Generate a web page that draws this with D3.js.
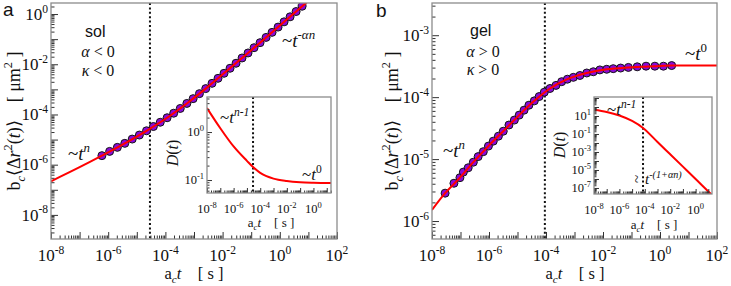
<!DOCTYPE html>
<html>
<head>
<meta charset="utf-8">
<script src="https://cdn.jsdelivr.net/npm/d3@7"></script>
<style>
    body { margin: 0; background: #fff; }
</style>
</head>
<body>
<svg id="chart" width="731" height="286"></svg>
<script>
// all values are log10

// panel a (sol): MSD dots and the red fit
const solDotLogT = [-6.22, -5.95, -5.68, -5.42, -5.16, -4.91, -4.66, -4.42, -4.18, -3.94, -3.71, -3.48,
    -3.25, -3.03, -2.81, -2.59, -2.37, -2.16, -1.95, -1.74, -1.53, -1.32, -1.11, -0.90, -0.69, -0.48,
    -0.27, -0.06, 0.15, 0.36, 0.57, 0.78];
const solDotLogMsd = [-5.64, -5.47, -5.31, -5.15, -4.98, -4.82, -4.65, -4.48, -4.31, -4.13, -3.95, -3.76,
    -3.56, -3.37, -3.17, -2.97, -2.76, -2.56, -2.36, -2.16, -1.96, -1.75, -1.55, -1.34, -1.14, -0.93,
    -0.73, -0.52, -0.31, -0.11, 0.10, 0.31];
const solLineLogT = [-8, -7, -6.22, -5.42, -4.66, -3.94, -3.25, -2.59, -1.95, -1.32, -0.69, -0.06, 0.57, 1.2];
const solLineLogMsd = [-6.66, -6.1, -5.64, -5.15, -4.65, -4.13, -3.56, -2.97, -2.36, -1.75, -1.14, -0.52, 0.10, 0.72];
const solInsetLogT = [-8, -7, -6, -5, -4.5, -4, -3, -2, -1, 0, 1.4];
const solInsetLogD = [0.5, 0.08, -0.3, -0.6, -0.74, -0.85, -0.97, -1.02, -1.045, -1.055, -1.06];
const solDottedLogT = -4.54;

// panel b (gel)
const gelDotLogT = [-7.54, -7.23, -7.02, -6.90, -6.73, -6.55, -6.38, -6.20, -6.02, -5.85, -5.67, -5.50,
    -5.30, -5.11, -4.94, -4.77, -4.60, -4.41, -4.24, -4.06, -3.86, -3.65, -3.45, -3.25, -3.04, -2.81,
    -2.57, -2.34, -2.11, -1.87, -1.64, -1.38, -1.11, -0.80, -0.49, -0.18, 0.12, 0.41];
const gelDotLogMsd = [-5.55, -5.39, -5.30, -5.21, -5.14, -5.05, -4.96, -4.88, -4.79, -4.71, -4.63, -4.55,
    -4.45, -4.37, -4.29, -4.21, -4.13, -4.06, -3.99, -3.92, -3.86, -3.81, -3.75, -3.71, -3.68, -3.65,
    -3.61, -3.59, -3.56, -3.55, -3.54, -3.53, -3.52, -3.51, -3.50, -3.50, -3.50, -3.49];
const gelLineLogT = [-8, -7.54, -7.02, -6.55, -6.02, -5.50, -4.94, -4.41, -3.86, -3.25, -2.57, -1.87, -1.11, -0.18, 0.41, 2];
const gelLineLogMsd = [-5.82, -5.55, -5.30, -5.05, -4.79, -4.55, -4.29, -4.06, -3.86, -3.71, -3.61, -3.55, -3.52, -3.50, -3.49, -3.49];
const gelInsetLogT = [-8, -7, -6, -5, -4.14, -3, -2, -1, 0, 1.29, 1.6];
const gelInsetLogD = [1.7, 1.45, 1.05, 0.45, -0.33, -1.89, -3.26, -4.63, -6.0, -7.78, -8.2];
const gelDottedLogT = -4.04;
const gelInsetDottedLogT = -4.14;

// tick labels (exponents)
const mainXLabels = [-8, -6, -4, -2, 0, 2];
const solYLabels = [-8, -6, -4, -2, 0];
const gelYLabels = [-6, -5, -4, -3];
const insetXLabels = [-8, -6, -4, -2, 0];
const solInsetYLabels = [-1, 0];
const gelInsetYLabels = [-7, -5, -3, -1, 1];

const SERIF = "Liberation Serif";
const SANS = "Liberation Sans";
const pw = e => Math.pow(10, e);

// rich text: parts {t, i (italic), s: "sup"|"sub"}
function rich(g, x, y, parts, size, anchor = "start") {
    const t = g.append("text").attr("x", x).attr("y", y)
        .attr("text-anchor", anchor)
        .attr("font-family", SERIF)
        .attr("font-size", size)
        .attr("fill", "#111");
    let shift = 0;
    parts.forEach(p => {
        const target = p.s === "sup" ? -0.42 * size : p.s === "sub" ? 0.26 * size : 0;
        const sp = t.append("tspan").text(p.t);
        if (target !== shift) sp.attr("dy", target - shift);
        shift = target;
        if (p.s) sp.attr("font-size", size * 0.68);
        if (p.i) sp.attr("font-style", "italic");
    });
    return t;
}

function powParts(e) {
    return [{t: "10"}, {t: e < 0 ? "-" + (-e) : "" + e, s: "sup"}];
}

class LogPanel {
    constructor(svg, box, xDomain, yDomain, style) {
        this.svg = svg;
        this.box = box;
        this.xDomain = xDomain;
        this.yDomain = yDomain;
        this.style = style;
    }

    initialize(id) {
        const b = this.box;
        this.g = this.svg.append("g");
        this.xScale = d3.scaleLog().domain(this.xDomain).range([b.x0, b.x1]);
        this.yScale = d3.scaleLog().domain(this.yDomain).range([b.y1, b.y0]);

        this.g.append("rect")
            .attr("x", b.x0).attr("y", b.y0)
            .attr("width", b.x1 - b.x0).attr("height", b.y1 - b.y0)
            .attr("fill", "#fff");

        this.svg.append("clipPath").attr("id", id)
            .append("rect")
            .attr("x", b.x0).attr("y", b.y0)
            .attr("width", b.x1 - b.x0).attr("height", b.y1 - b.y0);
        this.plot = this.g.append("g").attr("clip-path", `url(#${id})`);
        this.axes = this.g.append("g");
    }

    logTicks(domain) {
        const lo = Math.floor(Math.log10(domain[0])), hi = Math.ceil(Math.log10(domain[1]));
        const major = [], minor = [];
        for (let k = lo; k <= hi; k++) {
            for (let m = 1; m <= 9; m++) {
                const v = m * pw(k);
                if (v < domain[0] * 0.999 || v > domain[1] * 1.001) continue;
                (m === 1 ? major : minor).push(v);
            }
        }
        return {major, minor};
    }

    drawAxes(xLabels, yLabels) {
        const b = this.box, s = this.style;
        const xt = this.logTicks(this.xDomain), yt = this.logTicks(this.yDomain);

        const xAxis = (vals, len) => this.axes.append("g")
            .attr("transform", `translate(0, ${b.y1})`)
            .call(d3.axisBottom(this.xScale).tickValues(vals).tickSize(-len).tickFormat(""));
        const yAxis = (vals, len) => this.axes.append("g")
            .attr("transform", `translate(${b.x0}, 0)`)
            .call(d3.axisLeft(this.yScale).tickValues(vals).tickSize(-len).tickFormat(""));
        xAxis(xt.minor, s.minor); xAxis(xt.major, s.major);
        yAxis(yt.minor, s.minor); yAxis(yt.major, s.major);
        this.axes.selectAll(".domain").remove();
        this.axes.selectAll(".tick line").attr("stroke", "#333").attr("stroke-width", 1);

        this.axes.append("rect")
            .attr("x", b.x0).attr("y", b.y0)
            .attr("width", b.x1 - b.x0).attr("height", b.y1 - b.y0)
            .attr("fill", "none").attr("stroke", "#8c8c8c").attr("stroke-width", 1.3);

        xLabels.forEach(e => rich(this.axes, this.xScale(pw(e)), b.y1 + s.xLabelDy, powParts(e), s.font, "middle"));
        yLabels.forEach(e => rich(this.axes, b.x0 - 3, this.yScale(pw(e)) + s.font * 0.33, powParts(e), s.font, "end"));
    }

    line(logX, logY, width) {
        const pts = logX.map((v, i) => [this.xScale(pw(v)), this.yScale(pw(logY[i]))]);
        this.plot.append("path")
            .datum(pts)
            .attr("fill", "none")
            .attr("stroke", "#ff0000")
            .attr("stroke-width", width)
            .attr("d", d3.line().curve(d3.curveMonotoneX));
    }

    dots(logX, logY) {
        this.plot.append("g").selectAll("circle")
            .data(logX.map((v, i) => [v, logY[i]]))
            .join("circle")
            .attr("cx", d => this.xScale(pw(d[0])))
            .attr("cy", d => this.yScale(pw(d[1])))
            .attr("r", 4)
            .attr("fill", "#8a0ad8")
            .attr("stroke", "#151515")
            .attr("stroke-width", 1);
    }

    vline(logX) {
        const x = this.xScale(pw(logX));
        this.plot.append("line")
            .attr("x1", x).attr("x2", x)
            .attr("y1", this.box.y0).attr("y2", this.box.y1)
            .attr("stroke", "#111").attr("stroke-width", 2)
            .attr("stroke-dasharray", "2,2.4");
    }
}

const svg = d3.select("#chart");
const mainStyle = {major: 7, minor: 3.5, font: 17, xLabelDy: 22};
const insetStyle = {major: 5, minor: 2.5, font: 12.5, xLabelDy: 20};

// ---------- panel a ----------
const solMain = new LogPanel(svg, {x0: 51, x1: 337, y0: 3, y1: 239}, [pw(-8), pw(2)], [pw(-8.96), pw(0.44)], mainStyle);
solMain.initialize("clipA");
solMain.vline(solDottedLogT);
solMain.dots(solDotLogT, solDotLogMsd);
solMain.line(solLineLogT, solLineLogMsd, 2);
solMain.drawAxes(mainXLabels, solYLabels);

const solInset = new LogPanel(svg, {x0: 207, x1: 331, y0: 97, y1: 193}, [pw(-8), pw(1.32)], [pw(-1.27), pw(0.73)], insetStyle);
solInset.initialize("clipAi");
solInset.vline(solDottedLogT);
solInset.line(solInsetLogT, solInsetLogD, 2);
solInset.drawAxes(insetXLabels, solInsetYLabels);

// ---------- panel b ----------
const gelMain = new LogPanel(svg, {x0: 432, x1: 717, y0: 3, y1: 239}, [pw(-8), pw(2)], [pw(-6.29), pw(-2.48)], mainStyle);
gelMain.initialize("clipB");
gelMain.vline(gelDottedLogT);
gelMain.dots(gelDotLogT, gelDotLogMsd);
gelMain.line(gelLineLogT, gelLineLogMsd, 2);
gelMain.drawAxes(mainXLabels, gelYLabels);

const gelInset = new LogPanel(svg, {x0: 594, x1: 712, y0: 97, y1: 194}, [pw(-8), pw(1.29)], [pw(-7.67), pw(3.11)], insetStyle);
gelInset.initialize("clipBi");
gelInset.vline(gelInsetDottedLogT);
gelInset.line(gelInsetLogT, gelInsetLogD, 2);
gelInset.drawAxes(insetXLabels, gelInsetYLabels);

// ---------- labels ----------
const txt = svg.append("g");
const msdLabel = [{t: "b"}, {t: "c", i: true, s: "sub"}, {t: "\u27E8\u0394"}, {t: "r", i: true},
    {t: "2", s: "sup"}, {t: "("}, {t: "t", i: true}, {t: ")\u27E9\u2002\u2002[ \u03BCm"}, {t: "2", s: "sup"}, {t: " ]"}];
const timeLabel = [{t: "a"}, {t: "c", i: true, s: "sub"}, {t: "t", i: true}, {t: "\u2002\u2002[ s ]"}];

[[20, 121], [398, 121]].forEach(([x, y]) =>
    rich(txt, 0, 0, msdLabel, 18, "middle").attr("transform", `translate(${x},${y}) rotate(-90)`));
rich(txt, 194, 278.5, timeLabel, 16.5, "middle");
rich(txt, 575, 278.5, timeLabel, 16.5, "middle");
rich(txt, 271, 227, timeLabel, 13, "middle");
rich(txt, 654, 229, timeLabel, 13, "middle");

const dLabel = [{t: "D", i: true}, {t: "("}, {t: "t", i: true}, {t: ")"}];
rich(txt, 0, 0, dLabel, 16, "middle").attr("transform", "translate(178,153) rotate(-90)");
rich(txt, 0, 0, dLabel, 16, "middle").attr("transform", "translate(565,145) rotate(-90)");

const sansText = (x, y, size, s) => txt.append("text").attr("x", x).attr("y", y)
    .attr("font-family", SANS).attr("font-size", size).attr("fill", "#111").text(s);
sansText(3, 16, 19, "a");
sansText(376, 17, 19, "b");
sansText(85, 37, 16, "sol");
sansText(470, 36, 16, "gel");

rich(txt, 98, 57, [{t: "\u03B1", i: true}, {t: " < 0"}], 16, "middle");
rich(txt, 98, 76, [{t: "\u03BA", i: true}, {t: " < 0"}], 16, "middle");
rich(txt, 483, 57, [{t: "\u03B1", i: true}, {t: " > 0"}], 16, "middle");
rich(txt, 483, 75, [{t: "\u03BA", i: true}, {t: " > 0"}], 16, "middle");

rich(txt, 68, 160, [{t: "~"}, {t: "t", i: true}, {t: "n", i: true, s: "sup"}], 19);
rich(txt, 282, 47, [{t: "~"}, {t: "t", i: true}, {t: "-\u03B1n", i: true, s: "sup"}], 19);
rich(txt, 220, 123, [{t: "~"}, {t: "t", i: true}, {t: "n-1", i: true, s: "sup"}], 17);
rich(txt, 302, 180, [{t: "~"}, {t: "t", i: true}, {t: "0", s: "sup"}], 17);

rich(txt, 443, 157, [{t: "~"}, {t: "t", i: true}, {t: "n", i: true, s: "sup"}], 19);
rich(txt, 685, 60, [{t: "~"}, {t: "t", i: true}, {t: "0", s: "sup"}], 19);
rich(txt, 607, 115, [{t: "~"}, {t: "t", i: true}, {t: "n-1", i: true, s: "sup"}], 17);
rich(txt, 0, 0, [{t: "~"}], 15, "middle").attr("transform", "translate(642,179) rotate(-90)");
rich(txt, 645, 184, [{t: "t", i: true}, {t: "-(1+\u03B1n)", i: true, s: "sup"}], 15);
</script>
</body>
</html>
